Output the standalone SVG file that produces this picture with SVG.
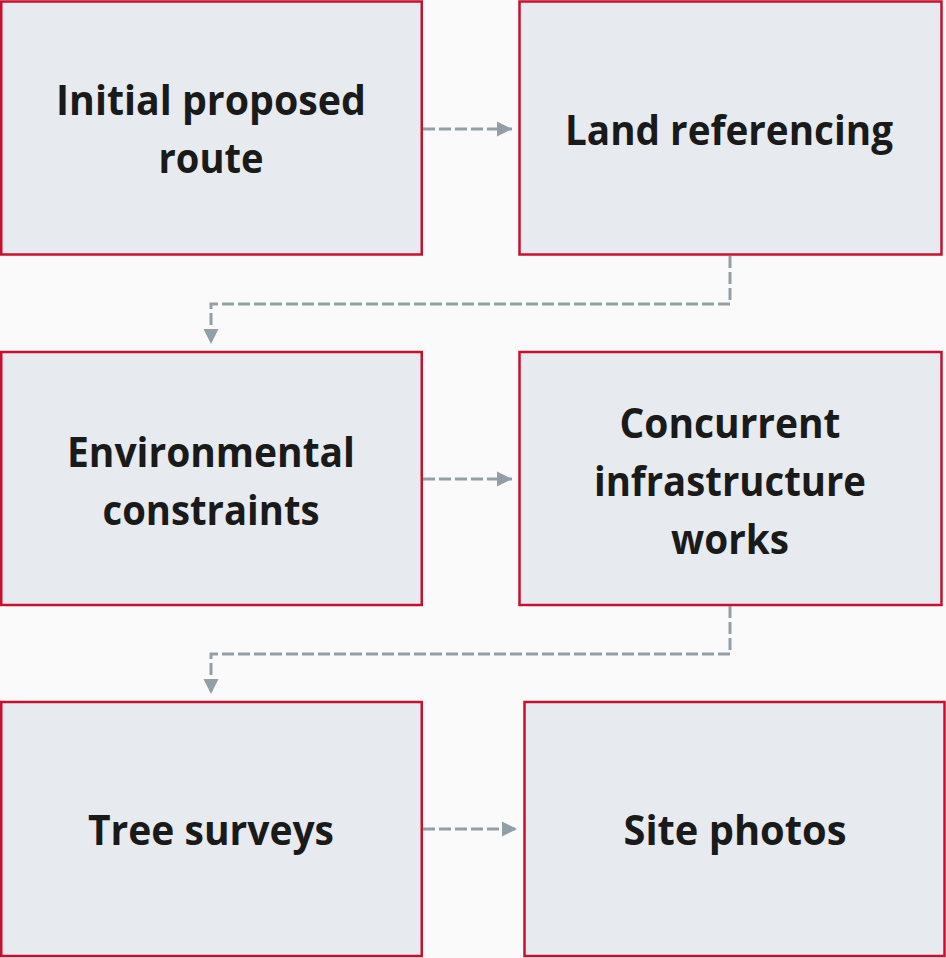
<svg xmlns="http://www.w3.org/2000/svg" width="946" height="958" viewBox="0 0 946 958">
<defs>
<style>
.box{fill:#E7EAEE;stroke:#C8102E;stroke-width:2.5}
.lbl{font-family:"Open Sans","Liberation Sans",sans-serif;font-weight:bold;font-size:41px;fill:#1A1A1A;text-anchor:middle}
.con{fill:none;stroke:#939FA7;stroke-width:3;stroke-dasharray:12 4}
</style>
<marker id="ah" markerUnits="userSpaceOnUse" markerWidth="16" markerHeight="16" viewBox="0 0 16 16" refX="15" refY="8" orient="auto">
<path d="M0,0.5 L15,8 L0,15.5 Z" fill="#939FA7"/>
</marker>
</defs>
<rect width="946" height="958" fill="#FAFAFA"/>
<g id="n1"><rect class="box" x="1.25" y="1.5" width="420.5" height="253"/>
<text class="lbl" x="211" y="115" textLength="310" lengthAdjust="spacingAndGlyphs">Initial proposed</text>
<text class="lbl" x="211" y="173" textLength="105" lengthAdjust="spacingAndGlyphs">route</text></g>
<g id="n2"><rect class="box" x="519.5" y="1.5" width="422" height="253"/>
<text class="lbl" x="729" y="145" textLength="328" lengthAdjust="spacingAndGlyphs">Land referencing</text></g>
<g id="n3"><rect class="box" x="1.25" y="352" width="420.5" height="253"/>
<text class="lbl" x="211" y="467" textLength="288" lengthAdjust="spacingAndGlyphs">Environmental</text>
<text class="lbl" x="211" y="525" textLength="217" lengthAdjust="spacingAndGlyphs">constraints</text></g>
<g id="n4"><rect class="box" x="519.5" y="352" width="422" height="253"/>
<text class="lbl" x="730" y="438" textLength="221" lengthAdjust="spacingAndGlyphs">Concurrent</text>
<text class="lbl" x="730" y="496" textLength="272" lengthAdjust="spacingAndGlyphs">infrastructure</text>
<text class="lbl" x="730" y="554" textLength="118" lengthAdjust="spacingAndGlyphs">works</text></g>
<g id="n5"><rect class="box" x="1.25" y="702" width="420.5" height="254"/>
<text class="lbl" x="211" y="845" textLength="246" lengthAdjust="spacingAndGlyphs">Tree surveys</text></g>
<g id="n6"><rect class="box" x="524.5" y="702" width="420" height="254"/>
<text class="lbl" x="735" y="845" textLength="223" lengthAdjust="spacingAndGlyphs">Site photos</text></g>
<g id="connectors">
<path class="con" d="M423,129 L512,129" marker-end="url(#ah)"/>
<path class="con" d="M730,256 L730,304 L211,304 L211,344" marker-end="url(#ah)"/>
<path class="con" d="M423,479 L512,479" marker-end="url(#ah)"/>
<path class="con" d="M730,606 L730,654 L211,654 L211,694" marker-end="url(#ah)"/>
<path class="con" d="M423,829 L517,829" marker-end="url(#ah)"/>
</g>
</svg>
